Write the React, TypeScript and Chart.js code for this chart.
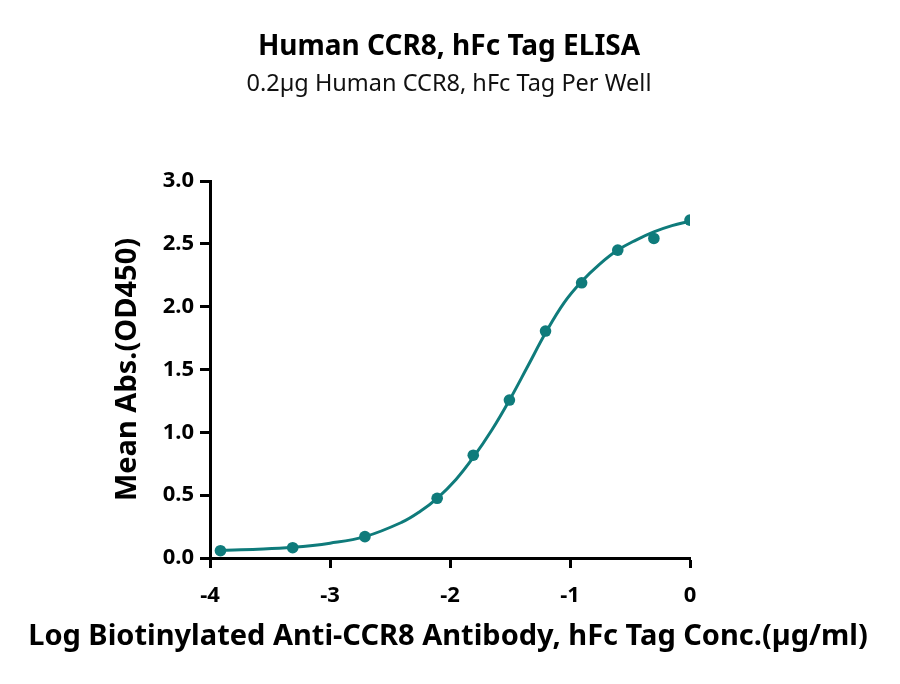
import React, { useEffect, useRef } from "react";
import { Chart, registerables } from "chart.js";

Chart.register(...registerables);

const TITLE = "Human CCR8, hFc Tag ELISA";
const SUBTITLE = "0.2\u00b5g Human CCR8, hFc Tag Per Well";
const X_TITLE = "Log Biotinylated Anti-CCR8 Antibody, hFc Tag Conc.(\u00b5g/ml)";
const Y_TITLE = "Mean Abs.(OD450)";

// measured points (log10 concentration, OD450)
const logConc = [-3.913, -3.311, -2.709, -2.107, -1.806, -1.505, -1.204, -0.903, -0.602, -0.301, 0];
const meanAbs = [0.058, 0.082, 0.17, 0.475, 0.818, 1.257, 1.806, 2.19, 2.45, 2.543, 2.689];

// fitted curve
const curveX = [-3.913, -3.6, -3.311, -3.0, -2.709, -2.4, -2.25, -2.107, -1.95, -1.806, -1.65, -1.505, -1.35, -1.204, -1.05, -0.903, -0.75, -0.602, -0.45, -0.301, -0.15, 0];
const curveY = [0.062, 0.07, 0.085, 0.118, 0.17, 0.285, 0.37, 0.475, 0.625, 0.8, 1.02, 1.255, 1.53, 1.79, 2.03, 2.2, 2.34, 2.45, 2.53, 2.595, 2.645, 2.68];

const xTicks = [-4, -3, -2, -1, 0];
const yTicks = [0, 0.5, 1, 1.5, 2, 2.5, 3];

const COLOR = "#0f7b7b";
const FONT = "'Noto Sans', sans-serif";

const titlePlugin = {
  id: "manualTitles",
  afterDraw(chart: any) {
    const ctx = chart.ctx;
    const area = chart.chartArea;
    ctx.save();
    ctx.textAlign = "center";
    ctx.textBaseline = "middle";
    ctx.fillStyle = "#000";
    ctx.font = `bold 28px ${FONT}`;
    ctx.fillText(TITLE, 449, 47);
    ctx.fillStyle = "#111";
    ctx.font = `normal 23.5px ${FONT}`;
    ctx.fillText(SUBTITLE, 449, 84);
    ctx.fillStyle = "#000";
    ctx.font = `bold 29px ${FONT}`;
    ctx.fillText(X_TITLE, 448, 637);
    ctx.translate(128, (area.top + area.bottom) / 2);
    ctx.rotate(-Math.PI / 2);
    ctx.fillText(Y_TITLE, 0, 0);
    ctx.restore();
  },
};

export default function App() {
  const ref = useRef<HTMLCanvasElement | null>(null);
  useEffect(() => {
    if (!ref.current) return;
    const pts = logConc.map((x, i) => ({ x, y: meanAbs[i] }));
    const curve = curveX.map((x, i) => ({ x, y: curveY[i] }));
    const chart = new Chart(ref.current, {
      type: "scatter",
      data: {
        datasets: [
          {
            data: curve,
            showLine: true,
            tension: 0.4,
            borderColor: COLOR,
            borderWidth: 3,
            pointRadius: 0,
            order: 2,
          },
          {
            data: pts,
            showLine: false,
            backgroundColor: COLOR,
            pointRadius: 5.8,
            pointBorderWidth: 0,
            pointBackgroundColor: COLOR,
            order: 1,
          },
        ],
      },
      plugins: [titlePlugin],
      options: {
        animation: false,
        responsive: false,
        devicePixelRatio: 1,
        layout: { padding: { top: 181, left: 110, right: 210, bottom: 26 } },
        plugins: {
          legend: { display: false },
          tooltip: { enabled: false },
          title: { display: false },
        },
        scales: {
          x: {
            type: "linear",
            min: -4,
            max: 0,
            afterBuildTicks: (s: any) => {
              s.ticks = xTicks.map((v) => ({ value: v }));
            },
            ticks: {
              color: "#000",
              font: { family: FONT, size: 22, weight: "bold" },
              padding: 15,
              callback: (v: any) => String(v),
            },
            grid: {
              display: true,
              drawOnChartArea: false,
              drawTicks: true,
              tickLength: 10,
              tickWidth: 3,
              tickColor: "#000",
            },
            border: { display: true, color: "#000", width: 3 },
            title: { display: false },
            afterFit: (s: any) => {
              s.height = 100;
            },
          },
          y: {
            type: "linear",
            min: 0,
            max: 3,
            afterBuildTicks: (s: any) => {
              s.ticks = yTicks.map((v) => ({ value: v }));
            },
            ticks: {
              color: "#000",
              font: { family: FONT, size: 22, weight: "bold" },
              padding: 6,
              callback: (v: any) => Number(v).toFixed(1),
            },
            grid: {
              display: true,
              drawOnChartArea: false,
              drawTicks: true,
              tickLength: 10,
              tickWidth: 3,
              tickColor: "#000",
            },
            border: { display: true, color: "#000", width: 3 },
            title: { display: false },
            afterFit: (s: any) => {
              s.width = 100;
            },
          },
        },
      },
    } as any);
    return () => chart.destroy();
  }, []);
  return (
    <div style={{ position: "fixed", left: 0, top: 0, width: 900, height: 684, background: "#fff" }}>
      <canvas ref={ref} width={900} height={684} style={{ width: 900, height: 684 }} />
    </div>
  );
}
